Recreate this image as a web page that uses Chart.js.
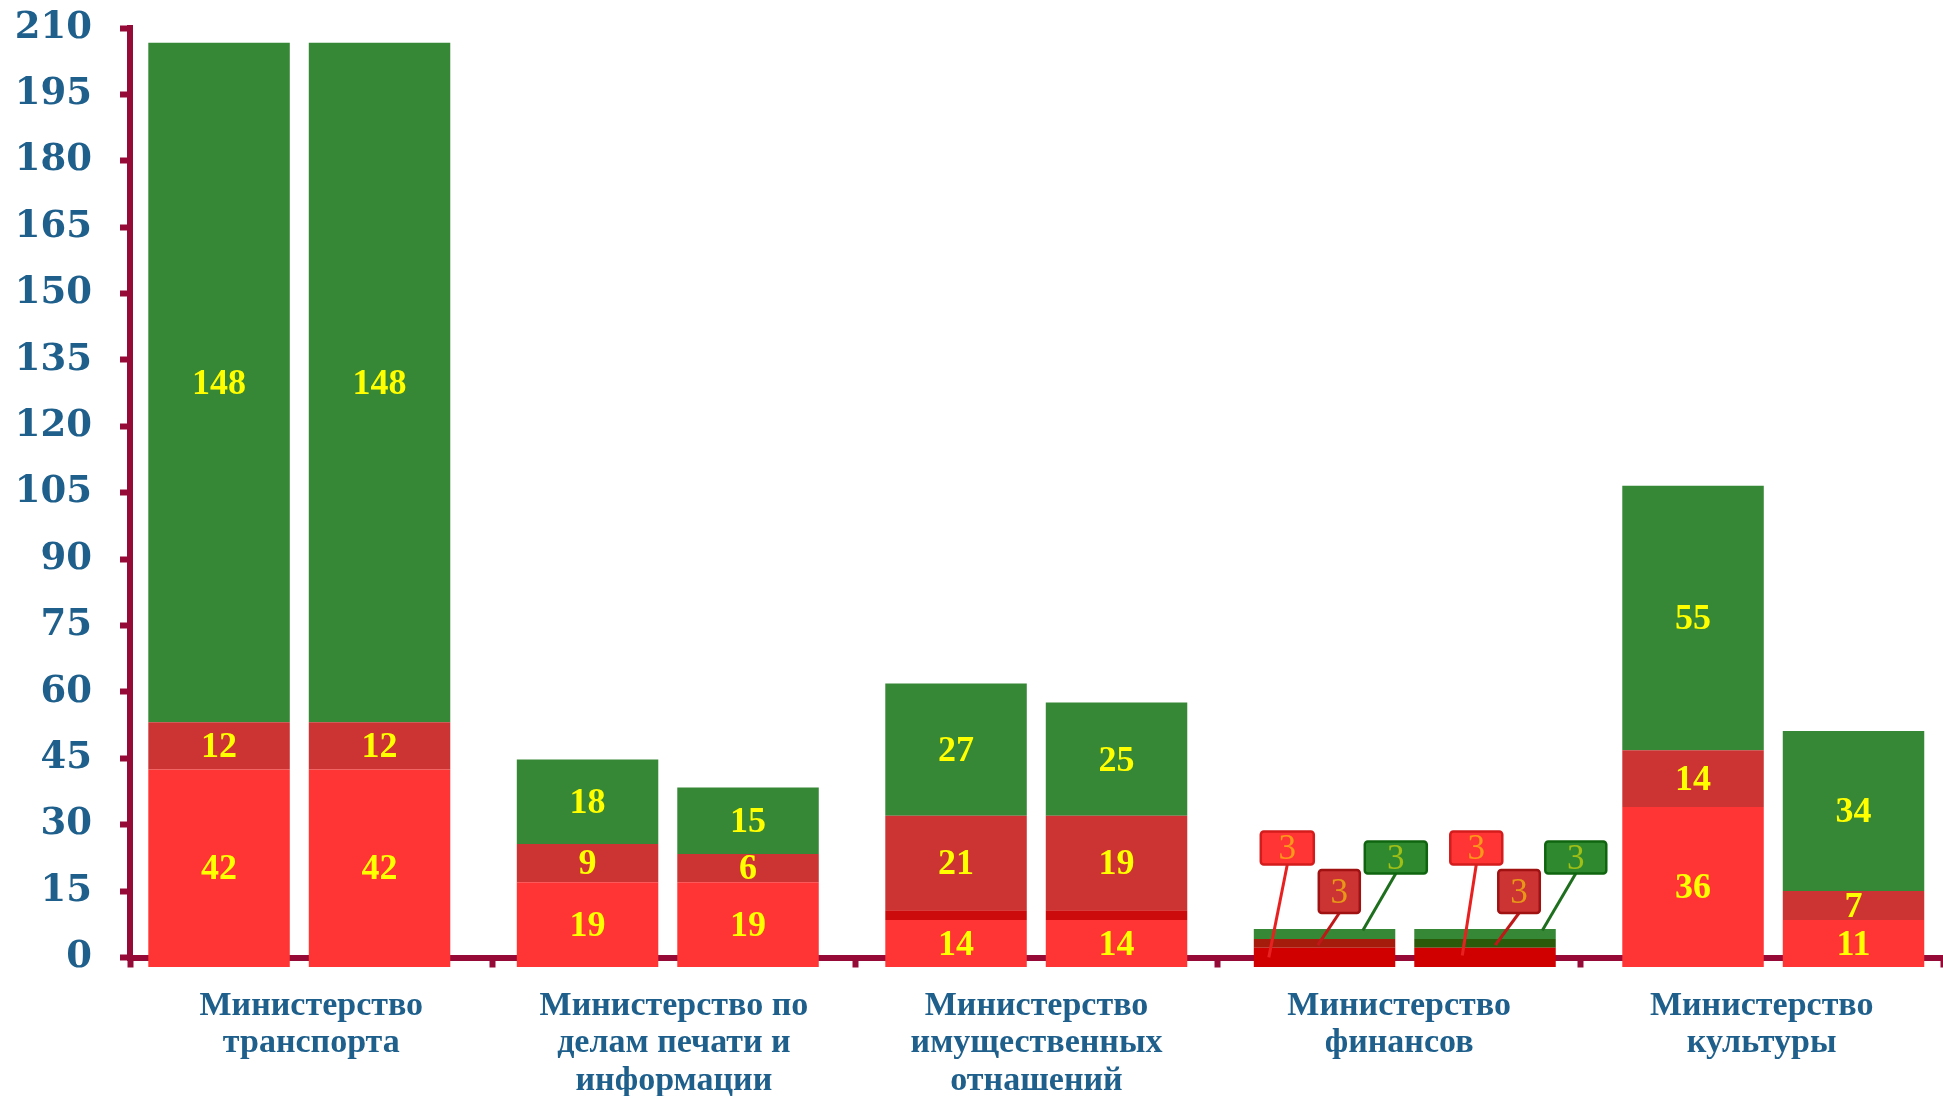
<!DOCTYPE html>
<html lang="ru">
<head>
<meta charset="utf-8" />
<title>Министерства</title>
<style>
  html, body { margin: 0; padding: 0; background: #ffffff; overflow: hidden; }
  #chart { display: block; }
</style>
<script src="https://cdn.jsdelivr.net/npm/chart.js"></script>
</head>
<body>
<canvas id="chart" width="1943" height="1096"></canvas>
<script>
const categories = [
  ['Министерство', 'транспорта'],
  ['Министерство по', 'делам печати и', 'информации'],
  ['Министерство', 'имущественных', 'отнашений'],
  ['Министерство', 'финансов'],
  ['Министерство', 'культуры']
];

// segment heights as drawn, first (A) and second (B) bar of each pair
const redA   = [42.5, 17.0, 8.45, 2.2, 34.0];
const redB   = [42.5, 17.0, 8.45, 2.2, 8.5];
const bandA  = [0, 0, 2.25, 0, 0];
const bandB  = [0, 0, 2.25, 0, 0];
const darkA  = [10.65, 8.65, 21.3, 1.97, 12.8];
const darkB  = [10.65, 6.4, 21.3, 1.97, 6.5];
const greenA = [153.5, 19.1, 29.9, 2.25, 59.8];
const greenB = [153.5, 15.0, 25.6, 2.25, 36.2];

// numbers printed on the segments
const redLabA   = [42, 19, 14, 3, 36];
const redLabB   = [42, 19, 14, 3, 11];
const darkLabA  = [12, 9, 21, 3, 14];
const darkLabB  = [12, 6, 19, 3, 7];
const greenLabA = [148, 18, 27, 3, 55];
const greenLabB = [148, 15, 25, 3, 34];

const yTicks = { min: 0, max: 210, step: 15 };

const maroon = '#960a38';
const blue = '#1e5f8c';
const RED = '#ff3535', DARK = '#cc3333', GREEN = '#368736', BAND = '#cc0c0c';
const FIN = 3; // finance column gets callout labels

function colors(base, special) {
  return categories.map((_, i) => (special && special[i]) ? special[i] : base);
}

function ds(values, stack, color, labels, extra) {
  return Object.assign({
    data: values.map((v, i) => ({ x: i, y: v })),
    xAxisID: 'xb', stack: stack, backgroundColor: color, borderWidth: 0,
    clip: false, valueLabels: labels
  }, extra || {});
}

const datasets = [
  ds(redA, 'a', colors(RED, {3: '#d00000'}), redLabA, { base: -2.14,
    callout: { dx: 7, dy: -126, w: 53, h: 33, endDx: 15, endF: 0.5, fill: '#ff3535', stroke: '#d41c1c', line: '#e82020' } }),
  ds(redB, 'b', colors(RED, {3: '#d00000'}), redLabB, { base: -2.14,
    callout: { dx: 36, dy: -126, w: 52, h: 33, endDx: 48, endF: 0.4, fill: '#ff3535', stroke: '#d41c1c', line: '#e82020' } }),
  ds(bandA, 'a', BAND, null),
  ds(bandB, 'b', BAND, null),
  ds(darkA, 'a', colors(DARK, {3: '#a51c0d'}), darkLabA, {
    callout: { dx: 65, dy: -87.5, w: 41, h: 43, endDx: 64, endF: 0.7, fill: '#cc3333', stroke: '#a01212', line: '#c01818' } }),
  ds(darkB, 'b', colors(DARK, {3: '#2b5a0b'}), darkLabB, {
    callout: { dx: 84, dy: -87.5, w: 41.5, h: 43, endDx: 81, endF: 0.7, fill: '#cc3333', stroke: '#a01212', line: '#c01818' } }),
  ds(greenA, 'a', GREEN, greenLabA, {
    callout: { dx: 111, dy: -116, w: 62, h: 32, endDx: 109, endF: 0.15, fill: '#2f8a2f', stroke: '#0f650f', line: '#1d6e1d' } }),
  ds(greenB, 'b', GREEN, greenLabB, {
    callout: { dx: 131, dy: -116, w: 61, h: 32, endDx: 128, endF: 0.15, fill: '#2f8a2f', stroke: '#0f650f', line: '#1d6e1d' } })
];

const segmentText = {
  id: 'segmentText',
  afterDatasetsDraw(chart) {
    const ctx = chart.ctx;
    const zero = chart.scales.y.getPixelForValue(0);
    chart.data.datasets.forEach((d, di) => {
      if (!d.valueLabels) return;
      chart.getDatasetMeta(di).data.forEach((el, i) => {
        const txt = String(d.valueLabels[i]);
        ctx.save();
        ctx.textAlign = 'center';
        ctx.textBaseline = 'middle';
        if (i === FIN && d.callout) {
          const c = d.callout;
          const left = el.x - el.width / 2;
          const bx = left + c.dx, by = zero + c.dy;
          ctx.strokeStyle = c.line;
          ctx.lineWidth = 3;
          ctx.beginPath();
          ctx.moveTo(bx + c.w / 2, by + c.h);
          ctx.lineTo(left + c.endDx, el.y + (el.base - el.y) * c.endF);
          ctx.stroke();
          ctx.fillStyle = c.fill;
          ctx.strokeStyle = c.stroke;
          ctx.lineWidth = 2.5;
          ctx.beginPath();
          if (ctx.roundRect) ctx.roundRect(bx, by, c.w, c.h, 3); else ctx.rect(bx, by, c.w, c.h);
          ctx.fill();
          ctx.stroke();
          ctx.fillStyle = 'rgba(255,235,0,0.55)';
          ctx.font = '35px "Liberation Serif"';
          ctx.fillText(txt, bx + c.w / 2, by + c.h / 2 + 2);
        } else {
          ctx.fillStyle = '#ffff00';
          ctx.font = 'bold 36px "Liberation Serif"';
          ctx.fillText(txt, el.x, (el.y + el.base) / 2 + 2);
        }
        ctx.restore();
      });
    });
  }
};

new Chart(document.getElementById('chart'), {
  type: 'bar',
  data: { labels: categories, datasets: datasets },
  options: {
    responsive: false,
    animation: false,
    devicePixelRatio: 1,
    layout: { padding: 0 },
    datasets: { bar: { categoryPercentage: 0.871, barPercentage: 0.8816 } },
    plugins: { legend: { display: false }, tooltip: { enabled: false } },
    scales: {
      x: {
        type: 'category',
        afterFit: (s) => { s.height = 138.5; },
        grid: { drawOnChartArea: false, offset: true, tickLength: 10, tickWidth: 6, tickColor: maroon },
        border: { color: maroon, width: 6 },
        ticks: {
          color: blue, padding: 20, maxRotation: 0, autoSkip: false,
          font: { family: '"Liberation Serif"', size: 34, weight: 'bold', lineHeight: 1.1 }
        }
      },
      // bars sit on their own hidden axis: the pairs are spaced a little wider than the labels
      xb: {
        type: 'linear',
        display: false,
        offset: false,
        min: -0.4594,
        max: 4.4606,
        grid: { offset: false },
        afterBuildTicks: (s) => { s.ticks = categories.map((_, i) => ({ value: i })); }
      },
      y: {
        stacked: true,
        min: yTicks.min,
        max: yTicks.max,
        afterFit: (s) => { s.width = 130; s.paddingTop = 28; },
        grid: { drawOnChartArea: false, tickLength: 10, tickWidth: 6, tickColor: maroon },
        border: { color: maroon, width: 6 },
        ticks: {
          stepSize: yTicks.step, color: blue, padding: 28,
          font: { family: '"DejaVu Serif"', size: 37, weight: 'bold' }
        }
      }
    }
  },
  plugins: [segmentText]
});
</script>
</body>
</html>
